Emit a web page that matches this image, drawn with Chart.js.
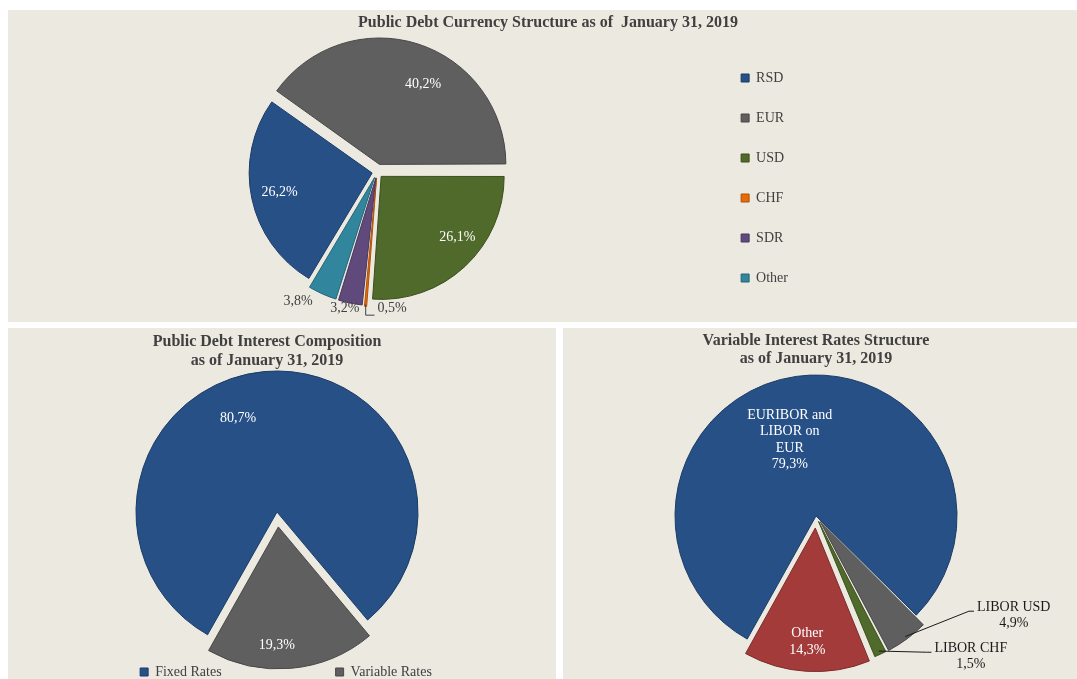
<!DOCTYPE html>
<html>
<head>
    <title>Public Debt Structure - January 31, 2019</title>
    <script src="https://cdn.jsdelivr.net/npm/chart.js@4"></script>
    <style>
        body {
            margin: 0;
            background: #fff;
            font-family: "Liberation Serif", "Times New Roman", serif;
        }

        .panel {
            position: absolute;
            background: #ECE9E0;
        }

        .panel canvas {
            position: absolute;
            left: 0;
            top: 0;
        }

        .title {
            position: absolute;
            left: 0;
            right: 0;
            text-align: center;
            font-weight: bold;
            font-size: 16px;
            line-height: 19px;
            color: #404040;
            white-space: pre;
        }

        #p1 { left: 8px; top: 10px; width: 1069px; height: 312px; }
        #p2 { left: 8px; top: 328px; width: 548px; height: 351px; }
        #p3 { left: 563px; top: 328px; width: 514px; height: 351px; }

        #p1 .title { top: 2px; padding-left: 11px; }
        #p2 .title { top: 3px; padding-right: 30px; }
        #p3 .title { top: 3px; padding-right: 8px; line-height: 18px; }
    </style>
</head>
<body>
    <div class="panel" id="p1">
        <canvas id="currencyChart" width="1069" height="312"></canvas>
        <div class="title">Public Debt Currency Structure as of  January 31, 2019</div>
    </div>
    <div class="panel" id="p2">
        <canvas id="interestChart" width="548" height="351"></canvas>
        <div class="title">Public Debt Interest Composition<br>as of January 31, 2019</div>
    </div>
    <div class="panel" id="p3">
        <canvas id="variableChart" width="514" height="351"></canvas>
        <div class="title">Variable Interest Rates Structure<br>as of January 31, 2019</div>
    </div>

    <script>
        // Data (shares in %)
        const currencyLabels = ['RSD', 'EUR', 'USD', 'CHF', 'SDR', 'Other'];
        const currencyShares = [26.2, 40.2, 26.1, 0.5, 3.2, 3.8];

        const interestLabels = ['Fixed Rates', 'Variable Rates'];
        const interestShares = [80.7, 19.3];

        const variableLabels = [['EURIBOR and', 'LIBOR on', 'EUR'], ['LIBOR USD'], ['LIBOR CHF'], ['Other']];
        const variableShares = [79.3, 4.9, 1.5, 14.3];

        // Colours
        const currencyColors = ['#265086', '#5F5F5F', '#4F6A2B', '#E46C0A', '#604A7B', '#31859C'];
        const currencyBorders = ['#1B3B66', '#474747', '#3A4F1E', '#B05206', '#47365C', '#236577'];
        const interestColors = ['#265086', '#5F5F5F'];
        const interestBorders = ['#1B3B66', '#474747'];
        const variableColors = ['#265086', '#5F5F5F', '#4F6A2B', '#A33B3B'];
        const variableBorders = ['#1B3B66', '#474747', '#3A4F1E', '#7D2A2A'];

        Chart.defaults.font.family = '"Liberation Serif", "Times New Roman", serif';
        Chart.defaults.font.size = 14;
        Chart.defaults.color = '#404040';

        // Draws the percentage labels (and leader lines) for each slice
        const sliceLabels = {
            id: 'sliceLabels',
            afterDatasetsDraw(chart, args, opts) {
                const ctx = chart.ctx;
                const arcs = chart.getDatasetMeta(0).data;
                const values = chart.data.datasets[0].data;
                const names = chart.data.labels;
                ctx.save();
                ctx.font = '14px "Liberation Serif", "Times New Roman", serif';
                ctx.textAlign = 'center';
                ctx.textBaseline = 'middle';
                arcs.forEach((arc, i) => {
                    const p = opts.place[i];
                    const mid = (arc.startAngle + arc.endAngle) / 2;
                    const push = (arc.options.offset || 0) / 4; // arc is shifted by offset/4
                    const a = mid + p.shift * Math.PI / 180;
                    const d = push + arc.outerRadius * p.r;
                    const x = arc.x + Math.cos(a) * d;
                    const y = arc.y + Math.sin(a) * d;
                    const lines = (opts.names ? [].concat(names[i]) : [])
                        .concat(values[i].toFixed(1).replace('.', ',') + '%');
                    const lh = 16.5;
                    const top = y - (lines.length - 1) * lh / 2;

                    if (p.leader) {
                        const w = Math.max(...lines.map(t => ctx.measureText(t).width));
                        const left = x - w / 2 - 3;
                        const er = push + arc.outerRadius + (p.leader === 'elbow' ? 4 : 2);
                        const ex = arc.x + Math.cos(mid) * er;
                        const ey = arc.y + Math.sin(mid) * er;
                        ctx.strokeStyle = p.color;
                        ctx.lineWidth = 1;
                        ctx.beginPath();
                        ctx.moveTo(ex, ey);
                        if (p.leader === 'elbow') {
                            ctx.lineTo(ex, top + 7);
                            ctx.lineTo(left, top + 7);
                        } else {
                            ctx.lineTo(left - 5, top + 4);
                            ctx.lineTo(left, top + 4);
                        }
                        ctx.stroke();
                    }

                    ctx.fillStyle = p.color;
                    lines.forEach((t, k) => ctx.fillText(t, x, top + k * lh));
                });
                ctx.restore();
            }
        };

        const commonOptions = {
            responsive: false,
            animation: false,
            events: [],
            plugins: {
                tooltip: { enabled: false }
            }
        };

        // Currency structure
        new Chart(document.getElementById('currencyChart'), {
            type: 'pie',
            data: {
                labels: currencyLabels,
                datasets: [{
                    data: currencyShares,
                    backgroundColor: currencyColors,
                    borderColor: currencyBorders,
                    borderWidth: 1,
                    offset: [20, 32, 24, 24, 24, 24],
                    hoverOffset: 0
                }]
            },
            options: {
                ...commonOptions,
                rotation: 211,
                radius: 123,
                layout: { padding: { left: 31, right: 279, top: 23, bottom: 11 } },
                plugins: {
                    ...commonOptions.plugins,
                    legend: {
                        position: 'right',
                        align: 'end',
                        labels: { boxWidth: 8, boxHeight: 8, padding: 26, color: '#404040' }
                    },
                    sliceLabels: {
                        place: [
                            { r: 0.77, shift: 0, color: '#fff' },
                            { r: 0.74, shift: 10, color: '#fff' },
                            { r: 0.79, shift: -8, color: '#fff' },
                            { r: 1.065, shift: -11.2, color: '#404040', leader: 'elbow' },
                            { r: 1.09, shift: 1.7, color: '#404040' },
                            { r: 1.18, shift: 7.3, color: '#404040' }
                        ]
                    }
                }
            },
            plugins: [sliceLabels]
        });

        // Interest composition
        new Chart(document.getElementById('interestChart'), {
            type: 'pie',
            data: {
                labels: interestLabels,
                datasets: [{
                    data: interestShares,
                    backgroundColor: interestColors,
                    borderColor: interestBorders,
                    borderWidth: 1,
                    offset: [0, 60],
                    hoverOffset: 0
                }]
            },
            options: {
                ...commonOptions,
                rotation: 209.5,
                radius: 141,
                layout: { padding: { left: 8, right: 0, top: 145, bottom: 0 } },
                plugins: {
                    ...commonOptions.plugins,
                    // empty right-hand title: only keeps the pie a little left of the legend centre
                    title: {
                        display: true,
                        text: ' ',
                        position: 'right',
                        padding: 0,
                        font: { size: 14, lineHeight: '18px' }
                    },
                    legend: {
                        position: 'bottom',
                        maxHeight: 128,
                        labels: { boxWidth: 8, boxHeight: 8, padding: 114, color: '#404040' }
                    },
                    sliceLabels: {
                        place: [
                            { r: 0.72, shift: -17.3, color: '#fff' },
                            { r: 0.84, shift: 5.3, color: '#fff' }
                        ]
                    }
                }
            },
            plugins: [sliceLabels]
        });

        // Variable interest rates structure
        new Chart(document.getElementById('variableChart'), {
            type: 'pie',
            data: {
                labels: variableLabels,
                datasets: [{
                    data: variableShares,
                    backgroundColor: variableColors,
                    borderColor: variableBorders,
                    borderWidth: 1,
                    offset: [0, 28, 24, 48],
                    hoverOffset: 0
                }]
            },
            options: {
                ...commonOptions,
                rotation: 209.2,
                radius: 141,
                layout: { padding: { left: 0, right: 8, top: 25, bottom: 0 } },
                plugins: {
                    ...commonOptions.plugins,
                    legend: { display: false },
                    sliceLabels: {
                        names: true,
                        place: [
                            { r: 0.57, shift: -11, color: '#fff' },
                            { r: 1.52, shift: -26.8, color: '#1a1a1a', leader: 'line' },
                            { r: 1.44, shift: -22.8, color: '#1a1a1a', leader: 'line' },
                            { r: 0.81, shift: 0.5, color: '#fff' }
                        ]
                    }
                }
            },
            plugins: [sliceLabels]
        });
    </script>
</body>
</html>
